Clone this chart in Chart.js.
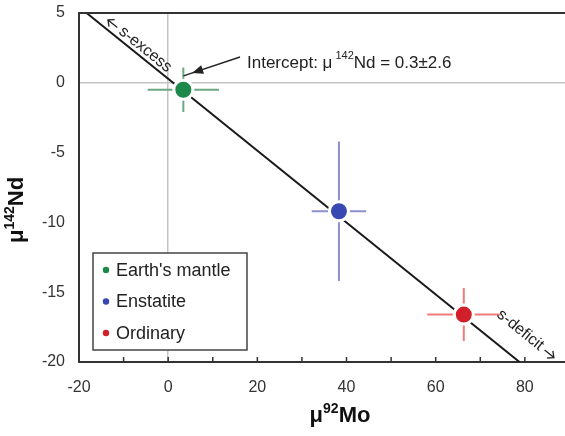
<!DOCTYPE html>
<html>
<head>
<meta charset="utf-8">
<script src="https://cdn.jsdelivr.net/npm/chart.js@4.4.1/dist/chart.umd.min.js"></script>
<style>
  html, body { margin: 0; padding: 0; background: #fff; }
  #wrap { width: 565px; height: 436px; }
</style>
</head>
<body>
<div id="wrap"><canvas id="myChart" width="565" height="436"></canvas></div>
<script>
// data
const groups = ["Earth's mantle", 'Enstatite', 'Ordinary'];
const mo92 = [3.4, 38.3, 66.3];
const nd142 = [-0.5, -9.2, -16.6];
const mo92Err = [8.0, 6.1, 8.2];
const nd142Err = [1.6, 5.0, 1.9];
// regression line (intercept 0.3)
const fitX = [-18.3, 78.8];
const fitY = [5, -20];
const xTicks = [-20, 0, 20, 40, 60, 80];
const yTicks = [-20, -15, -10, -5, 0, 5];

const dotColors = ['#1c884a', '#3748b2', '#d2202b'];
const barColors = ['#6ca983', '#8d90cf', '#ee7c7c'];
const FONT = "'Liberation Sans', Arial, sans-serif";
Chart.defaults.font.family = FONT;

const datasets = [];
groups.forEach(function (g, i) {
    datasets.push({
        label: g,
        data: [{ x: mo92[i], y: nd142[i] }],
        backgroundColor: dotColors[i],
        borderColor: '#ffffff',
        borderWidth: 3,
        pointRadius: 9.5,
        order: 0
    });
});
groups.forEach(function (g, i) {
    datasets.push({
        label: g + ' err',
        type: 'line',
        showLine: true,
        spanGaps: false,
        data: [
            { x: mo92[i] - mo92Err[i], y: nd142[i] },
            { x: mo92[i] + mo92Err[i], y: nd142[i] },
            { x: mo92[i], y: null },
            { x: mo92[i], y: nd142[i] + nd142Err[i] },
            { x: mo92[i], y: nd142[i] - nd142Err[i] }
        ],
        borderColor: barColors[i],
        borderWidth: 2,
        pointRadius: 0,
        order: 1
    });
});
datasets.push({
    label: 'fit',
    type: 'line',
    showLine: true,
    data: fitX.map(function (v, k) { return { x: v, y: fitY[k] }; }),
    borderColor: '#1a1a1a',
    borderWidth: 2,
    pointRadius: 0,
    order: 2
});

function gridColor(c) {
    return c.tick && c.tick.value === 0 ? '#c4c4c4' : 'rgba(0,0,0,0)';
}

// small open arrow, drawn in the current (rotated) frame; head at xHead
function openArrow(ctx, xTail, xHead, yv) {
    const d = xHead > xTail ? 1 : -1;
    ctx.beginPath();
    ctx.moveTo(xTail, yv);
    ctx.lineTo(xHead, yv);
    ctx.moveTo(xHead - d * 5, yv - 4.5);
    ctx.lineTo(xHead, yv);
    ctx.lineTo(xHead - d * 5, yv + 4.5);
    ctx.stroke();
}

const extras = {
    id: 'extras',
    afterDraw(chart) {
        const ctx = chart.ctx, a = chart.chartArea;
        const x = chart.scales.x, y = chart.scales.y;
        ctx.save();

        // top frame line
        ctx.strokeStyle = '#333';
        ctx.lineWidth = 2;
        ctx.beginPath();
        ctx.moveTo(a.left, a.top);
        ctx.lineTo(a.right, a.top);
        ctx.stroke();

        // small inward ticks on x axis
        ctx.lineWidth = 1.5;
        x.ticks.forEach(function (t) {
            if (t.value % 10 !== 0 || t.value <= x.min) return;
            const px = x.getPixelForValue(t.value);
            ctx.beginPath();
            ctx.moveTo(px, a.bottom);
            ctx.lineTo(px, a.bottom - 5);
            ctx.stroke();
        });

        // labels along the fit line
        const x0 = x.getPixelForValue(fitX[0]), y0 = y.getPixelForValue(fitY[0]);
        const x1 = x.getPixelForValue(fitX[1]), y1 = y.getPixelForValue(fitY[1]);
        const ang = Math.atan2(y1 - y0, x1 - x0);
        ctx.fillStyle = '#222';
        ctx.strokeStyle = '#222';
        ctx.lineWidth = 1.3;
        ctx.font = '16px ' + FONT;
        ctx.textBaseline = 'alphabetic';
        ctx.textAlign = 'left';
        ctx.save();
        ctx.translate(x0, y0);
        ctx.rotate(ang);
        openArrow(ctx, 33, 21, -8);
        ctx.fillText('s-excess', 37, -4);
        ctx.fillText('s-deficit', 509, -21);
        const dw = ctx.measureText('s-deficit').width;
        openArrow(ctx, 509 + dw + 4, 509 + dw + 16, -25);
        ctx.restore();

        // intercept annotation
        let tx = 247;
        const ty = 68;
        ctx.font = '17px ' + FONT;
        ctx.fillText('Intercept: \u03bc', tx, ty);
        tx += ctx.measureText('Intercept: \u03bc').width + 3;
        ctx.font = '11px ' + FONT;
        ctx.fillText('142', tx, ty - 9);
        tx += ctx.measureText('142').width;
        ctx.font = '17px ' + FONT;
        ctx.fillText('Nd = 0.3\u00b12.6', tx, ty);

        ctx.lineWidth = 1.5;
        const ax0 = 240, ay0 = 57, ax1 = 192, ay1 = 73;
        const aa = Math.atan2(ay1 - ay0, ax1 - ax0);
        ctx.beginPath();
        ctx.moveTo(ax0, ay0);
        ctx.lineTo(ax1 + 9 * Math.cos(aa), ay1 + 9 * Math.sin(aa));
        ctx.stroke();
        ctx.beginPath();
        ctx.moveTo(ax1, ay1);
        ctx.lineTo(ax1 - 12 * Math.cos(aa - 0.38), ay1 - 12 * Math.sin(aa - 0.38));
        ctx.lineTo(ax1 - 12 * Math.cos(aa + 0.38), ay1 - 12 * Math.sin(aa + 0.38));
        ctx.closePath();
        ctx.fill();

        // legend box
        const lx = 93, ly = 253, lw = 154, lh = 97;
        ctx.fillStyle = '#fff';
        ctx.fillRect(lx, ly, lw, lh);
        ctx.strokeStyle = '#444';
        ctx.lineWidth = 1.5;
        ctx.strokeRect(lx, ly, lw, lh);
        ctx.font = '18px ' + FONT;
        ctx.textBaseline = 'middle';
        groups.forEach(function (g, i) {
            const cy = 270 + i * 31.5;
            ctx.fillStyle = dotColors[i];
            ctx.beginPath();
            ctx.arc(106, cy, 3.2, 0, Math.PI * 2);
            ctx.fill();
            ctx.fillStyle = '#222';
            ctx.fillText(g, 116, cy + 1);
        });

        // axis titles with superscripts
        ctx.textBaseline = 'alphabetic';
        ctx.fillStyle = '#111';
        function titled(parts, cx, base) {
            let w = 0;
            parts.forEach(function (p) {
                ctx.font = (p.sup ? 'bold 14px ' : 'bold 22px ') + FONT;
                w += ctx.measureText(p.t).width;
            });
            let px = cx - w / 2;
            parts.forEach(function (p) {
                ctx.font = (p.sup ? 'bold 14px ' : 'bold 22px ') + FONT;
                ctx.fillText(p.t, px, base - (p.sup ? 9 : 0));
                px += ctx.measureText(p.t).width;
            });
        }
        titled([{ t: '\u03bc' }, { t: '92', sup: true }, { t: 'Mo' }], 340, 422);
        ctx.save();
        ctx.translate(23, 210);
        ctx.rotate(-Math.PI / 2);
        titled([{ t: '\u03bc' }, { t: '142', sup: true }, { t: 'Nd' }], 0, 0);
        ctx.restore();

        ctx.restore();
    }
};

const ctx = document.getElementById('myChart');
const mychart = new Chart(ctx, {
    type: 'scatter',
    data: { datasets: datasets },
    options: {
        responsive: false,
        animation: false,
        layout: { autoPadding: false, padding: { top: 13, left: 0, right: 0, bottom: 0 } },
        plugins: { legend: { display: false }, tooltip: { enabled: false } },
        scales: {
            x: {
                type: 'linear',
                min: -20,
                max: 89,
                ticks: {
                    stepSize: 10,
                    includeBounds: false,
                    autoSkip: false,
                    maxRotation: 0,
                    padding: 16,
                    color: '#333',
                    font: { size: 16 },
                    callback: function (v) { return xTicks.includes(v) ? String(v) : ''; }
                },
                grid: { color: gridColor, lineWidth: 1.5, drawTicks: false },
                border: { color: '#333', width: 2 },
                afterFit: function (s) {
                    s.height = 74;
                    s.paddingLeft = 0;
                    s.paddingRight = 0;
                }
            },
            y: {
                min: yTicks[0],
                max: yTicks[yTicks.length - 1],
                ticks: {
                    stepSize: 5,
                    padding: 14,
                    color: '#333',
                    font: { size: 16 }
                },
                grid: { color: gridColor, lineWidth: 1.5, drawTicks: false },
                border: { color: '#333', width: 2 },
                afterFit: function (s) {
                    s.width = 79;
                    s.paddingTop = 0;
                    s.paddingBottom = 0;
                }
            }
        }
    },
    plugins: [extras]
});
</script>
</body>
</html>
